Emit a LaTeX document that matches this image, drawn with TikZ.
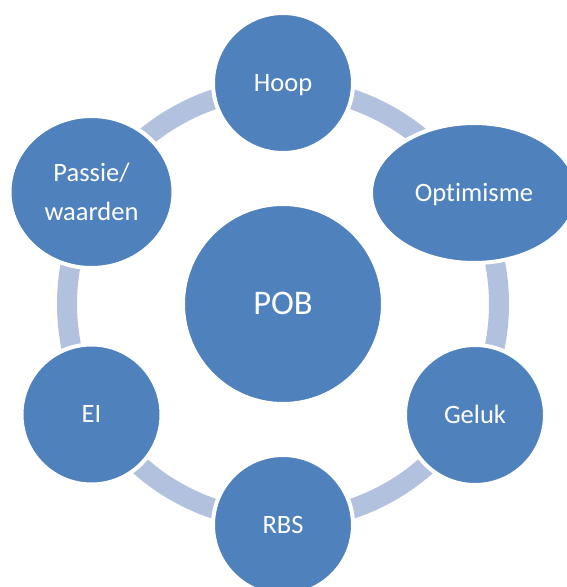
\documentclass[tikz,border=0pt]{standalone}
\usepackage{fontspec}
\setmainfont{Carlito}[Ligatures=NoCommon]
\usetikzlibrary{shapes.geometric}
\definecolor{cycleblue}{RGB}{79,129,189}
\definecolor{ringtint}{RGB}{178,193,222}
\begin{document}
\begin{tikzpicture}[x=1pt,y=-1pt,
  ring/.style={draw=ringtint, line width=20pt},
  blob/.style={fill=cycleblue, draw=white, line width=4pt, text=white,
    inner sep=0pt, font=\fontsize{26.5}{39}\selectfont},
  capline/.style={text height=16.7pt, text depth=0pt},
  roundblob/.style={blob, capline, circle, minimum size=140pt}
]
\useasboundingbox (0,0) rectangle (567,587);
\clip (0,0) rectangle (567,587);

% connecting ring behind the outer shapes
\coordinate (hub) at (283,304);
\draw[ring] (hub) circle[radius=216pt];

% outer shapes (white rim leaves a gap to the ring)
\node[roundblob] (hoop) at (283,83) {Hoop};
\node[blob, capline, ellipse, minimum width=206pt, minimum height=140pt] (optimisme) at (474,193) {Optimisme};
\node[roundblob] (geluk) at (475,415) {Geluk};
\node[roundblob] (rbs) at (283,525) {RBS};
\node[roundblob] (ei) at (91.5,414.5) {EI};
\node[blob, ellipse, align=center, minimum width=164pt, minimum height=152pt] (passie) at (91.5,192) {Passie/\\waarden};

% centre
\node[blob, circle, minimum size=200pt, text height=21.8pt, text depth=0pt,
  font=\fontsize{34.5}{40}\selectfont] (pob) at (hub) {POB};
\end{tikzpicture}
\end{document}
